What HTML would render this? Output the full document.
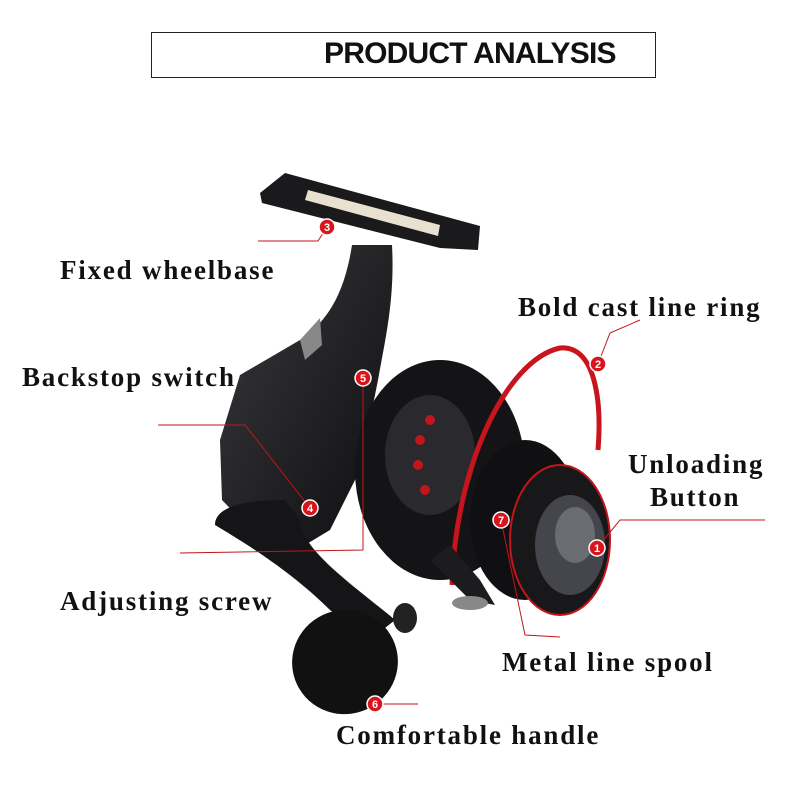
<!DOCTYPE html>
<html><head><meta charset="utf-8"><style>
html,body{margin:0;padding:0;background:#fff;}
body{width:790px;height:803px;position:relative;overflow:hidden;}
.title{position:absolute;left:151px;top:32px;width:505px;height:46px;border:1.5px solid #222;box-sizing:border-box;}
.title span{position:absolute;left:172px;top:4px;font:bold 30px "Liberation Sans",sans-serif;color:#111;letter-spacing:-0.8px;}
.l{position:absolute;font:bold 27px "Liberation Serif",serif;color:#111;white-space:nowrap;letter-spacing:1.8px;}
svg{position:absolute;left:0;top:0;}
</style></head><body>
<div class="title"><span>PRODUCT ANALYSIS</span></div>
<svg width="790" height="803" viewBox="0 0 790 803">
<defs>
<linearGradient id="g1" x1="0" y1="0" x2="1" y2="1"><stop offset="0" stop-color="#3a3a3e"/><stop offset="1" stop-color="#0c0c0e"/></linearGradient>
</defs>
<path d="M352,245 L392,245 C395,300 385,340 378,380 L360,470 L330,530 L280,560 L222,500 L220,440 L240,375 L300,340 C330,320 345,290 352,245Z" fill="url(#g1)"/>
<path d="M300,340 L320,318 L322,345 L305,360Z" fill="#888"/>
<path d="M260,193 L285,173 L480,226 L478,250 L440,248 L262,203Z" fill="#1a1a1c"/>
<path d="M308,190 L440,225 L438,236 L305,200Z" fill="#e8e0d0"/>
<ellipse cx="440" cy="470" rx="85" ry="110" fill="#141416"/>
<ellipse cx="430" cy="455" rx="45" ry="60" fill="#2a2a2e"/>
<circle cx="420" cy="440" r="5" fill="#c0161c"/><circle cx="418" cy="465" r="5" fill="#c0161c"/><circle cx="430" cy="420" r="5" fill="#c0161c"/><circle cx="425" cy="490" r="5" fill="#c0161c"/>
<ellipse cx="525" cy="520" rx="55" ry="80" fill="#101012"/>
<ellipse cx="560" cy="540" rx="50" ry="75" fill="#18181a" stroke="#c0161c" stroke-width="2"/>
<ellipse cx="570" cy="545" rx="35" ry="50" fill="#44464c"/>
<ellipse cx="575" cy="535" rx="20" ry="28" fill="#6a6c72"/>
<path d="M452,585 C455,470 505,360 560,348 C595,345 602,400 598,450" fill="none" stroke="#c8141c" stroke-width="5"/>
<path d="M430,560 L470,600 L495,605 L480,580 L450,545Z" fill="#1c1c1e"/>
<ellipse cx="470" cy="603" rx="18" ry="7" fill="#888"/>
<path d="M285,500 C250,500 215,505 215,525 C240,540 290,570 330,610 L370,640 L395,620 C360,590 300,550 300,520Z" fill="#151517"/>
<ellipse cx="345" cy="662" rx="53" ry="52" fill="#111" transform="rotate(-20 345 662)"/>
<ellipse cx="405" cy="618" rx="12" ry="15" fill="#222"/>
<g stroke="#c0161c" stroke-width="1" fill="none">
<polyline points="258,241 318,241 327,227"/>
<polyline points="640,320 610,333 598,364"/>
<polyline points="363,378 363,550 180,553"/>
<polyline points="158,425 245,425 310,508"/>
<polyline points="597,548 620,520 765,520"/>
<polyline points="501,520 525,635 560,637"/>
<polyline points="375,704 418,704"/>
</g>
<g fill="#d8141c" stroke="#fff" stroke-width="1.5">
<circle cx="327" cy="227" r="8"/><circle cx="598" cy="364" r="8"/><circle cx="363" cy="378" r="8"/><circle cx="310" cy="508" r="8"/><circle cx="501" cy="520" r="8"/><circle cx="597" cy="548" r="8"/><circle cx="375" cy="704" r="8"/>
</g>
<g fill="#fff" font-family="Liberation Sans,sans-serif" font-weight="bold" font-size="11" text-anchor="middle">
<text x="327" y="231">3</text><text x="598" y="368">2</text><text x="363" y="382">5</text><text x="310" y="512">4</text><text x="501" y="524">7</text><text x="597" y="552">1</text><text x="375" y="708">6</text>
</g>
</svg>
<div class="l" style="left:60px;top:255px">Fixed wheelbase</div>
<div class="l" style="left:518px;top:292px">Bold cast line ring</div>
<div class="l" style="left:22px;top:362px">Backstop switch</div>
<div class="l" style="left:628px;top:449px">Unloading</div>
<div class="l" style="left:650px;top:482px">Button</div>
<div class="l" style="left:60px;top:586px">Adjusting screw</div>
<div class="l" style="left:502px;top:647px">Metal line spool</div>
<div class="l" style="left:336px;top:720px">Comfortable handle</div>
</body></html>
